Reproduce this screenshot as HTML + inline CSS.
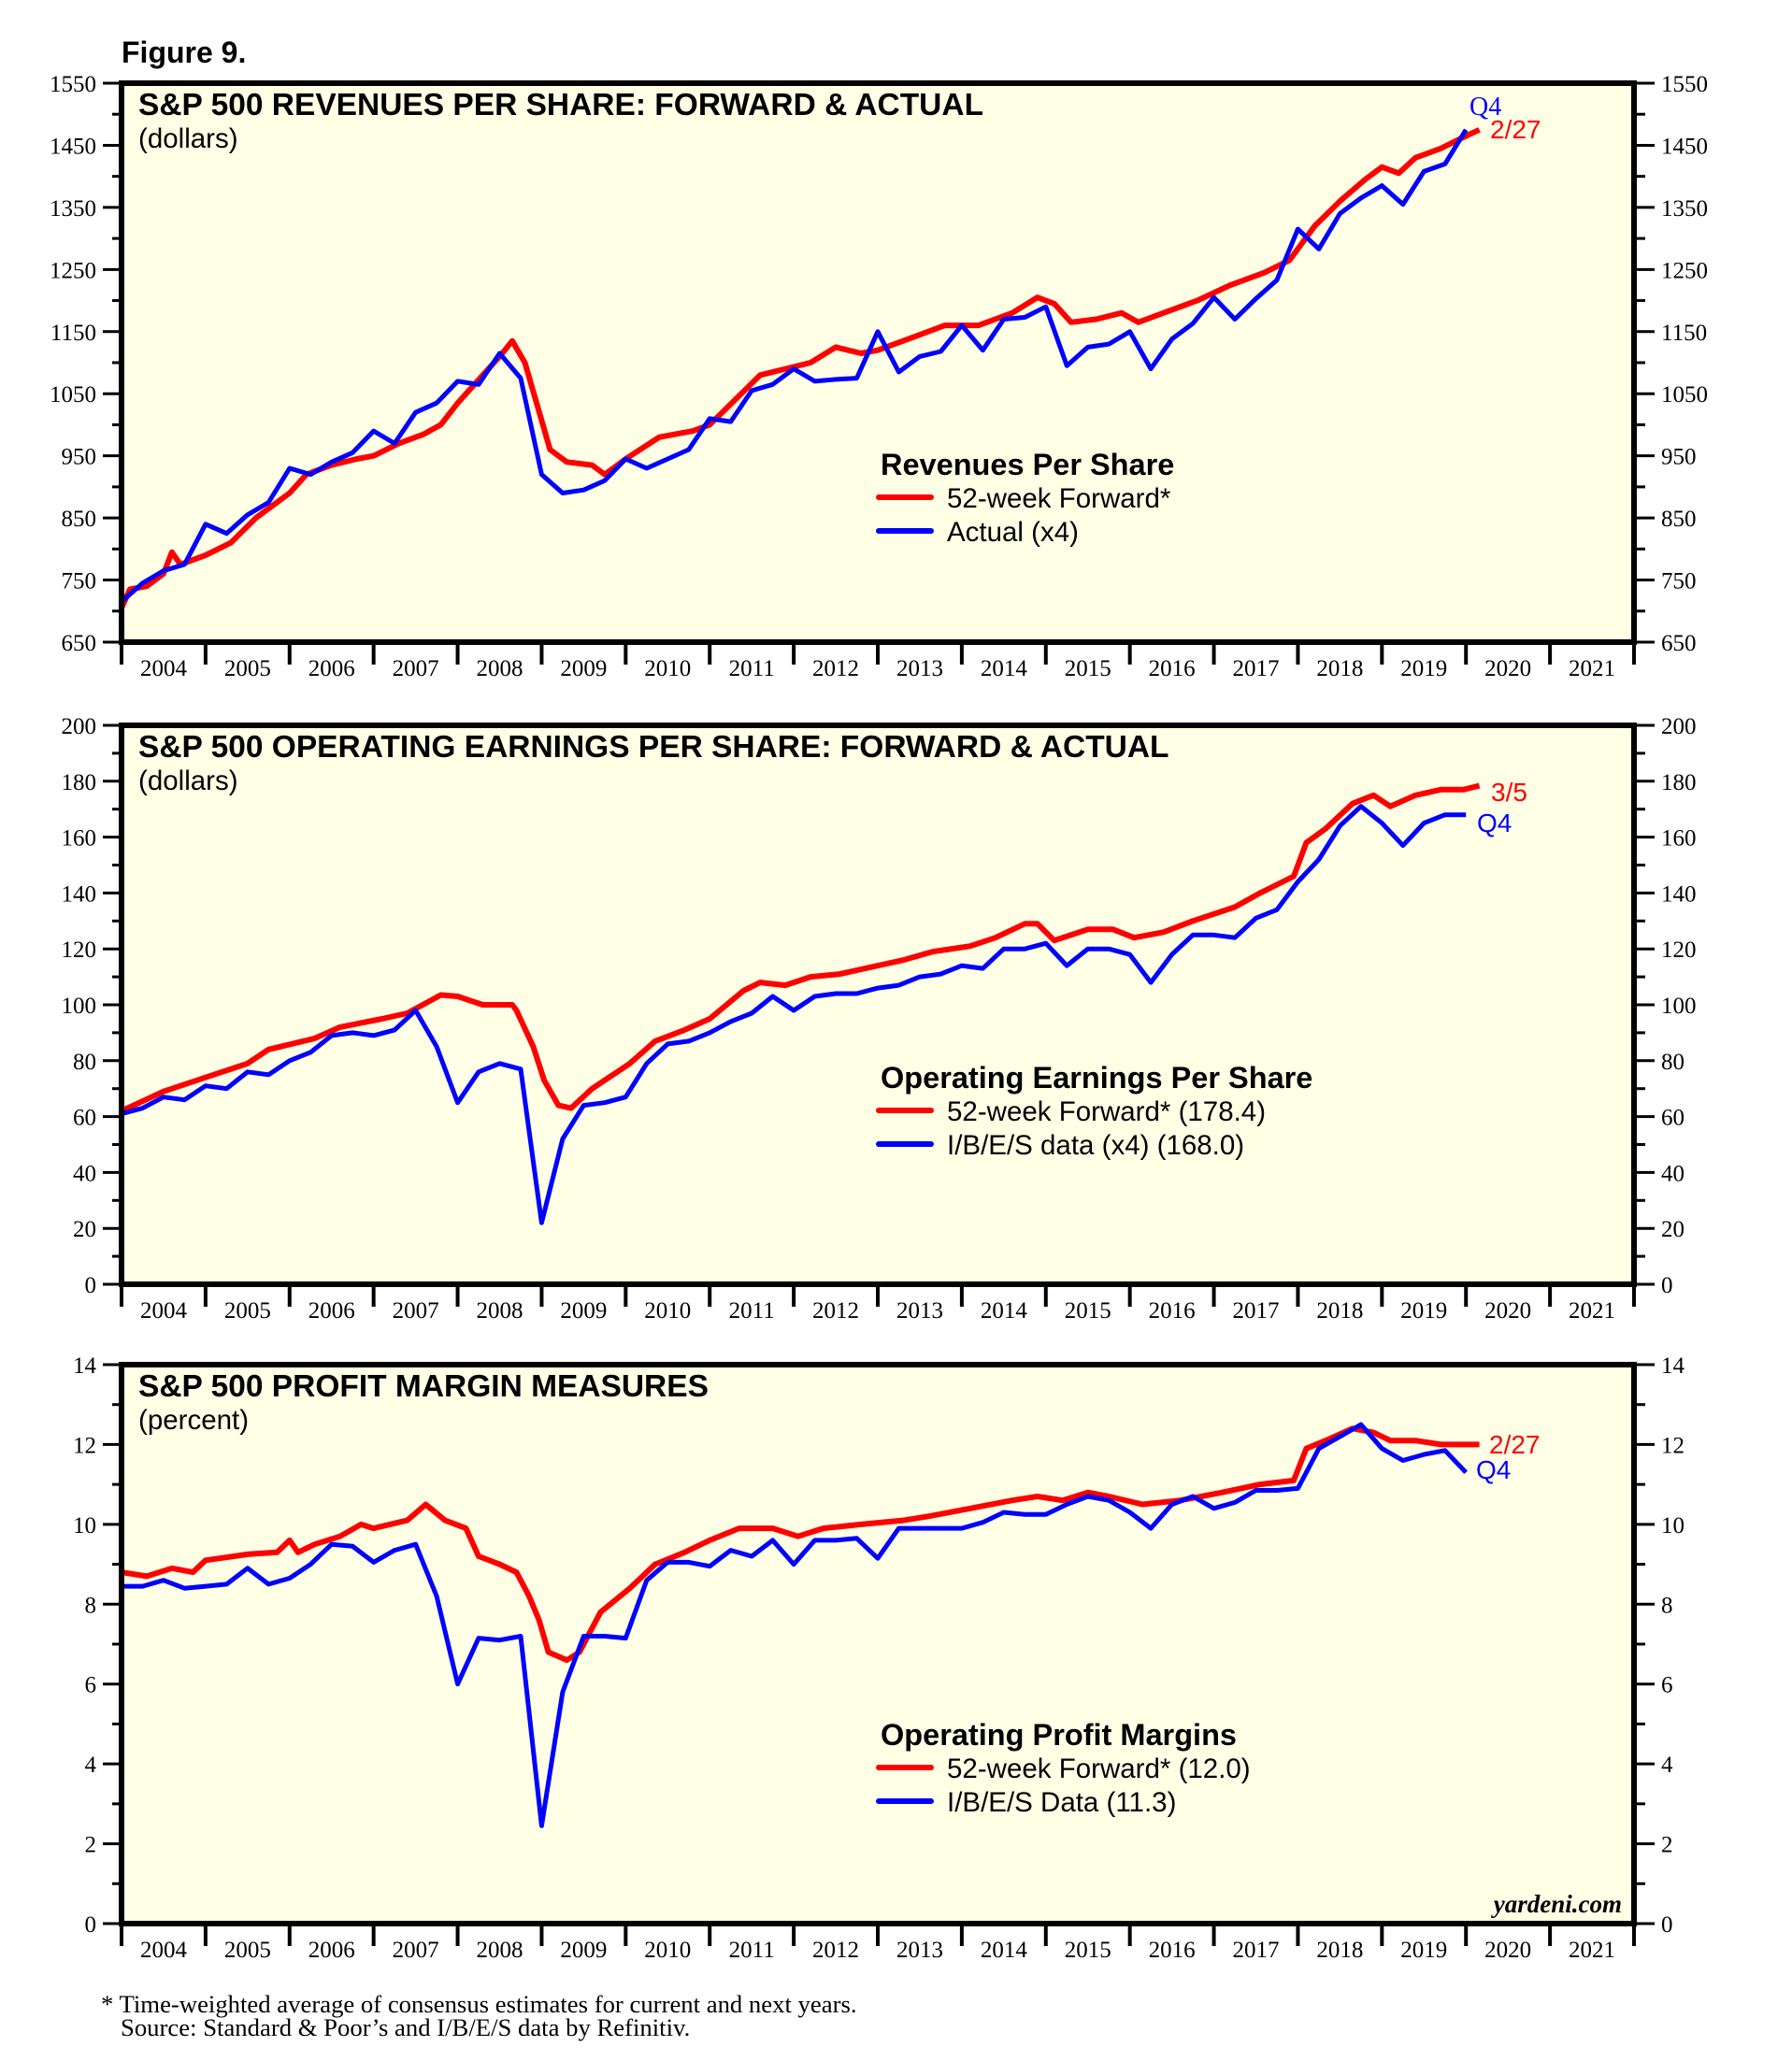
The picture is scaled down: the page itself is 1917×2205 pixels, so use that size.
<!DOCTYPE html>
<html><head><meta charset="utf-8">
<style>
html,body{margin:0;padding:0;background:#fff;}
svg{display:block;}
.ax{font-family:"Liberation Serif",serif;font-size:25px;fill:#000;}
.ttl{font-family:"Liberation Sans",sans-serif;font-weight:bold;font-size:33.5px;fill:#000;}
.sub{font-family:"Liberation Sans",sans-serif;font-size:29.5px;fill:#000;}
.lg{font-family:"Liberation Sans",sans-serif;font-size:29.5px;fill:#000;}
.lgt{font-family:"Liberation Sans",sans-serif;font-weight:bold;font-size:32.5px;fill:#000;}
</style></head>
<body>
<svg id="chart" width="1917" height="2205" viewBox="0 0 1917 2205" xmlns="http://www.w3.org/2000/svg">
<text x="130" y="67" font-family="Liberation Sans, sans-serif" font-weight="bold" font-size="32">Figure 9.</text>
<g id="panels"></g>
<text x="108" y="2153" style="font-family:'Liberation Serif',serif;font-size:26.7px;fill:#000">* Time-weighted average of consensus estimates for current and next years.</text>
<text x="129" y="2178" style="font-family:'Liberation Serif',serif;font-size:26.7px;fill:#000">Source: Standard &amp; Poor’s and I/B/E/S data by Refinitiv.</text>
</svg>
<script>
// ---- Data ----
const years = [2004,2005,2006,2007,2008,2009,2010,2011,2012,2013,2014,2015,2016,2017,2018,2019,2020,2021];
const revTicks = [650,750,850,950,1050,1150,1250,1350,1450,1550];
const epsTicks = [0,20,40,60,80,100,120,140,160,180,200];
const marTicks = [0,2,4,6,8,10,12,14];

const revFwdT = [2004.0,2004.1,2004.3,2004.5,2004.6,2004.7,2005.0,2005.3,2005.6,2005.8,2006.0,2006.2,2006.5,2006.8,2007.0,2007.3,2007.6,2007.8,2008.0,2008.3,2008.5,2008.65,2008.8,2008.95,2009.1,2009.3,2009.6,2009.75,2010.0,2010.4,2010.8,2011.0,2011.3,2011.6,2011.9,2012.2,2012.5,2012.8,2013.0,2013.4,2013.8,2014.2,2014.6,2014.9,2015.1,2015.3,2015.6,2015.9,2016.1,2016.4,2016.8,2017.2,2017.6,2017.9,2018.2,2018.5,2018.8,2019.0,2019.2,2019.4,2019.7,2020.0,2020.16];
const revFwdV = [705,735,740,760,795,775,790,810,850,870,890,920,935,945,950,970,985,1000,1035,1080,1110,1135,1100,1030,960,940,935,920,945,980,990,1000,1040,1080,1090,1100,1125,1115,1120,1140,1160,1160,1180,1205,1195,1165,1170,1180,1165,1180,1200,1225,1245,1265,1320,1360,1395,1415,1405,1430,1445,1465,1475];
const revActT = [2004.0,2004.25,2004.5,2004.75,2005.0,2005.25,2005.5,2005.75,2006.0,2006.25,2006.5,2006.75,2007.0,2007.25,2007.5,2007.75,2008.0,2008.25,2008.5,2008.75,2009.0,2009.25,2009.5,2009.75,2010.0,2010.25,2010.5,2010.75,2011.0,2011.25,2011.5,2011.75,2012.0,2012.25,2012.5,2012.75,2013.0,2013.25,2013.5,2013.75,2014.0,2014.25,2014.5,2014.75,2015.0,2015.25,2015.5,2015.75,2016.0,2016.25,2016.5,2016.75,2017.0,2017.25,2017.5,2017.75,2018.0,2018.25,2018.5,2018.75,2019.0,2019.25,2019.5,2019.75,2020.0];
const revActV = [715,745,765,775,840,825,855,875,930,920,940,955,990,970,1020,1035,1070,1065,1115,1075,920,890,895,910,945,930,945,960,1010,1005,1055,1065,1090,1070,1073,1075,1150,1085,1110,1118,1160,1120,1170,1173,1190,1095,1125,1130,1150,1090,1138,1163,1205,1170,1203,1233,1315,1283,1340,1365,1385,1355,1408,1420,1475];

const epsFwdT = [2004.0,2004.5,2005.0,2005.5,2005.75,2006.3,2006.6,2007.1,2007.4,2007.8,2008.0,2008.3,2008.65,2008.7,2008.9,2009.03,2009.2,2009.35,2009.6,2010.05,2010.35,2010.7,2011.0,2011.4,2011.6,2011.9,2012.2,2012.55,2012.85,2013.3,2013.65,2014.1,2014.4,2014.75,2014.9,2015.1,2015.5,2015.8,2016.05,2016.4,2016.75,2017.25,2017.55,2017.95,2018.1,2018.33,2018.65,2018.9,2019.1,2019.4,2019.7,2019.97,2020.16];
const epsFwdV = [62,69,74,79,84,88,92,95,97,103.5,103,100,100,98,85,73,64,63,70,79,87,91,95,105,108,107,110,111,113,116,119,121,124,129,129,123,127,127,124,126,130,135,140,146,158,163,172,175,171,175,177,177,178.4];
const epsActT = revActT;
const epsActV = [61,63,67,66,71,70,76,75,80,83,89,90,89,91,98,85,65,76,79,77,22,52,64,65,67,79,86,87,90,94,97,103,98,103,104,104,106,107,110,111,114,113,120,120,122,114,120,120,118,108,118,125,125,124,131,134,144,152,164,171,165,157,165,168,168];

const marFwdT = [2004.0,2004.3,2004.6,2004.85,2005.0,2005.5,2005.85,2006.0,2006.1,2006.3,2006.6,2006.85,2007.0,2007.4,2007.62,2007.85,2008.1,2008.25,2008.5,2008.7,2008.85,2008.97,2009.08,2009.3,2009.45,2009.7,2010.05,2010.35,2010.7,2011.0,2011.35,2011.75,2012.05,2012.35,2012.8,2013.3,2013.6,2014.1,2014.6,2014.9,2015.2,2015.5,2015.75,2016.15,2016.6,2017.1,2017.55,2017.95,2018.1,2018.33,2018.65,2018.9,2019.1,2019.4,2019.7,2020.16];
const marFwdV = [8.8,8.7,8.9,8.8,9.1,9.25,9.3,9.6,9.3,9.5,9.7,10.0,9.9,10.1,10.5,10.1,9.9,9.2,9.0,8.8,8.2,7.6,6.8,6.6,6.8,7.8,8.4,9.0,9.3,9.6,9.9,9.9,9.7,9.9,10.0,10.1,10.2,10.4,10.6,10.7,10.6,10.8,10.7,10.5,10.6,10.8,11.0,11.1,11.9,12.1,12.4,12.3,12.1,12.1,12.0,12.0];
const marActT = revActT;
const marActV = [8.45,8.45,8.6,8.4,8.45,8.5,8.9,8.5,8.65,9.0,9.5,9.45,9.05,9.35,9.5,8.2,6.0,7.15,7.1,7.2,2.45,5.8,7.2,7.2,7.15,8.6,9.05,9.05,8.95,9.35,9.2,9.6,9.0,9.6,9.6,9.65,9.15,9.9,9.9,9.9,9.9,10.05,10.3,10.25,10.25,10.5,10.7,10.6,10.3,9.9,10.5,10.7,10.4,10.55,10.85,10.85,10.9,11.9,12.2,12.5,11.9,11.6,11.75,11.85,11.3];

// ---- Layout ----
const NS = "http://www.w3.org/2000/svg";
const L = 130, R = 1748, H = 598;
const root = document.getElementById('panels');
function mk(tag, attrs, parent){ const e=document.createElementNS(NS,tag); for(const k in attrs) e.setAttribute(k, attrs[k]); (parent||root).appendChild(e); return e; }
function xS(t){ return L + (t - 2004) * (R - L) / 18; }

const panels = [
 {top:89, min:650, max:1550, ticks:revTicks, minor:50, title:"S&P 500 REVENUES PER SHARE: FORWARD & ACTUAL", sub:"(dollars)",
  fT:revFwdT, fV:revFwdV, aT:revActT, aV:revActV, lgT:"Revenues Per Share", l1:"52-week Forward*", l2:"Actual (x4)", lgY:508, key:"revenues",
  labels:[{t:"Q4",x:1572,y:123,c:"#0000ff",serif:true},{t:"2/27",x:1594,y:148,c:"#ff0000"}]},
 {top:776, min:0, max:200, ticks:epsTicks, minor:10, title:"S&P 500 OPERATING EARNINGS PER SHARE: FORWARD & ACTUAL", sub:"(dollars)",
  fT:epsFwdT, fV:epsFwdV, aT:epsActT, aV:epsActV, lgT:"Operating Earnings Per Share", l1:"52-week Forward* (178.4)", l2:"I/B/E/S data (x4) (168.0)", lgY:1164, key:"earnings",
  labels:[{t:"3/5",x:1595,y:857,c:"#ff0000"},{t:"Q4",x:1580,y:890,c:"#0000ff"}]},
 {top:1460, min:0, max:14, ticks:marTicks, minor:1, title:"S&P 500 PROFIT MARGIN MEASURES", sub:"(percent)",
  fT:marFwdT, fV:marFwdV, aT:marActT, aV:marActV, lgT:"Operating Profit Margins", l1:"52-week Forward* (12.0)", l2:"I/B/E/S Data (11.3)", lgY:1867, key:"margins",
  labels:[{t:"2/27",x:1593,y:1555,c:"#ff0000"},{t:"Q4",x:1579,y:1582,c:"#0000ff"}]}
];

panels.forEach(function(p){
  const g = mk('g', {});
  
  
  const B = p.top + H;
  const yS = v => B - (v - p.min) * H / (p.max - p.min);
  const bg = mk('rect', {x:L, y:p.top, width:R-L, height:H, fill:'#ffffe6'}, g);
  
  
  for (let v = p.min; v <= p.max + 1e-9; v += p.minor) {
    const y = yS(v);
    const major = p.ticks.some(t => Math.abs(t - v) < 1e-6);
    mk('line', {x1: major ? 110 : 120, x2: L, y1: y, y2: y, stroke: '#000', 'stroke-width': 3}, g);
    mk('line', {x1: R, x2: major ? 1770 : 1760, y1: y, y2: y, stroke: '#000', 'stroke-width': 3}, g);
  }
  p.ticks.forEach(function(v){
    const y = yS(v);
    const tl = mk('text', {x:103, y:y+9, 'text-anchor':'end', class:'ax'}, g);
    tl.textContent = v;
    
    
    const tr = mk('text', {x:1777, y:y+9, class:'ax'}, g);
    tr.textContent = v;
    
    
  });
  for (let i = 0; i <= years.length; i++) {
    const x = xS(2004 + i);
    mk('line', {x1:x, x2:x, y1:B, y2:B+24, stroke:'#000', 'stroke-width':4}, g);
  }
  years.forEach(function(yr){
    const t = mk('text', {x:xS(yr+0.5), y:B+36, 'text-anchor':'middle', class:'ax'}, g);
    t.textContent = yr;
    
    
  });
  const cp = 'cp' + p.key;
  const clip = mk('clipPath', {id:cp}, g);
  mk('rect', {x:L, y:p.top, width:R-L, height:H}, clip);
  const fwd = mk('polyline', {points: p.fT.map((t,i)=>xS(t).toFixed(1)+','+yS(p.fV[i]).toFixed(1)).join(' '), fill:'none', stroke:'#ff0000', 'stroke-width':6, 'stroke-linejoin':'round', 'clip-path':'url(#'+cp+')'}, g);
  
  
  const act = mk('polyline', {points: p.aT.map((t,i)=>xS(t).toFixed(1)+','+yS(p.aV[i]).toFixed(1)).join(' '), fill:'none', stroke:'#0000ff', 'stroke-width':5, 'stroke-linejoin':'round', 'clip-path':'url(#'+cp+')'}, g);
  
  
  mk('rect', {x:L, y:p.top, width:R-L, height:H, fill:'none', stroke:'#000', 'stroke-width':6}, g);
  const tt = mk('text', {x:148, y:p.top+34, class:'ttl'}, g);
  tt.textContent = p.title;
  
  
  const st = mk('text', {x:148, y:p.top+69, class:'sub'}, g);
  st.textContent = p.sub;
  
  
  p.labels.forEach(function(lb){
    const e = mk('text', {x:lb.x, y:lb.y, fill:lb.c, 'font-size':28, 'font-family': lb.serif ? 'Liberation Serif, serif' : 'Liberation Sans, sans-serif'}, g);
    e.textContent = lb.t;
    
    
  });
  const lg = mk('g', {}, g);
  
  
  const lt = mk('text', {x:942, y:p.lgY, class:'lgt'}, lg);
  lt.textContent = p.lgT;
  
  
  mk('line', {x1:940, x2:996, y1:p.lgY+24, y2:p.lgY+24, stroke:'#ff0000', 'stroke-width':6, 'stroke-linecap':'round'}, lg);
  const l1 = mk('text', {x:1013, y:p.lgY+35, class:'lg'}, lg);
  l1.textContent = p.l1;
  
  
  mk('line', {x1:940, x2:996, y1:p.lgY+60, y2:p.lgY+60, stroke:'#0000ff', 'stroke-width':6, 'stroke-linecap':'round'}, lg);
  const l2 = mk('text', {x:1013, y:p.lgY+71, class:'lg'}, lg);
  l2.textContent = p.l2;
  
  
  if (p.key === 'margins') {
    const w = mk('text', {x:1735, y:2046, 'text-anchor':'end', 'font-family':'Liberation Serif, serif', 'font-weight':'bold', 'font-style':'italic', 'font-size':27}, g);
    w.textContent = 'yardeni.com';
    
    
  }
});
</script>
</body></html>
